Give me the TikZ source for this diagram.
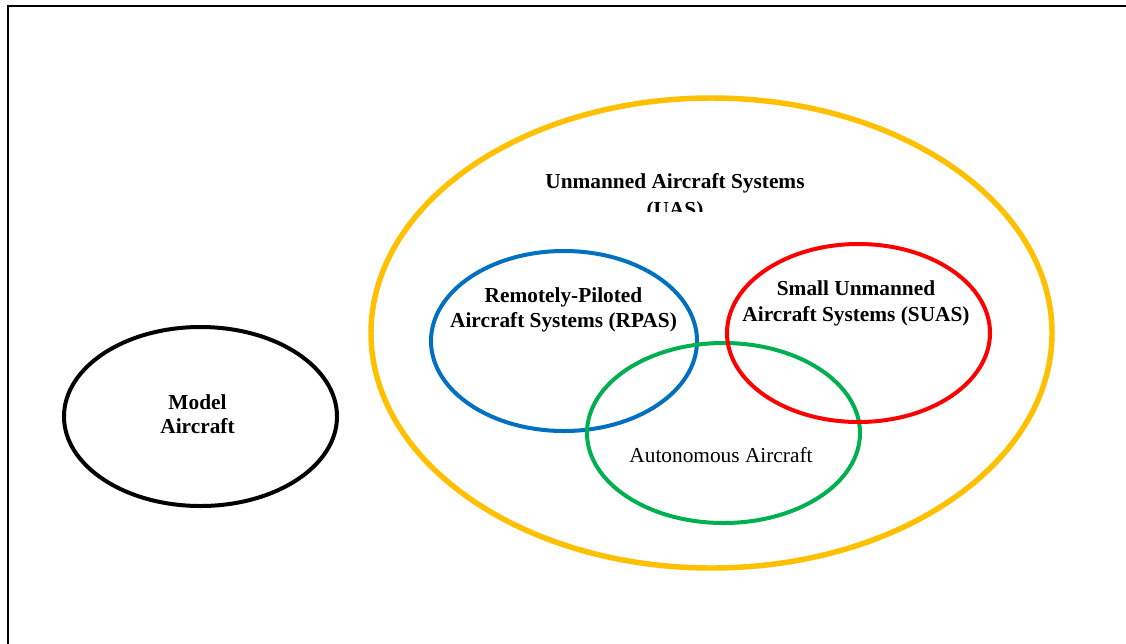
\documentclass[tikz,border=0pt]{standalone}
\usepackage{fontspec}
\setmainfont{Liberation Serif}
\usetikzlibrary{shapes.geometric}
\definecolor{uasyellow}{HTML}{FFC000}
\definecolor{rpasblue}{HTML}{0070C0}
\definecolor{suasred}{HTML}{FF0000}
\definecolor{autogreen}{HTML}{00B050}
\tikzset{
  setoval/.style={ellipse, draw, inner sep=0pt, outer sep=0pt, line width=3pt},
  lbl/.style={anchor=base, inner sep=0pt, font=\fontsize{16}{19}\selectfont\bfseries},
  lblreg/.style={anchor=base, inner sep=0pt, font=\fontsize{16}{19}\selectfont},
  framebox/.style={line width=1.5pt, draw=black}
}
\begin{document}
\begin{tikzpicture}[x=0.75pt,y=-0.75pt]
\useasboundingbox (0,0) rectangle (1126,643);
\clip (0,0) rectangle (1126,643);
\fill[white] (0,0) rectangle (1126,643);
% frame (extends past right and bottom edges)
\coordinate (fbl) at (7.7,700);
\coordinate (ftl) at (7.7,6);
\coordinate (ftr) at (1200,6);
\draw[framebox] (fbl) -- (ftl) -- (ftr);
% ellipses
\node[setoval, draw=uasyellow, line width=4.1pt, minimum width=510.75pt, minimum height=352.5pt] (uas) at (711.5,333) {};
\node[setoval, draw=black, minimum width=204.75pt, minimum height=134.25pt] (model) at (200.5,416.5) {};
\node[setoval, draw=rpasblue, minimum width=199.5pt, minimum height=135pt] (rpas) at (564,341) {};
\node[setoval, draw=autogreen, minimum width=204.75pt, minimum height=135pt] (auto) at (723.5,433) {};
\node[setoval, draw=suasred, minimum width=197.25pt, minimum height=133.5pt] (suas) at (858.5,333) {};
% labels
\node[lbl] (uas1) at (675,188) {Unmanned Aircraft Systems};
\begin{scope}
\clip (500,195) rectangle (850,211.5);
\node[lbl] (uas2) at (675,216) {(UAS)};
\end{scope}
\node[lbl] (rpas1) at (563.5,302) {Remotely-Piloted};
\node[lbl] (rpas2) at (563.5,327) {Aircraft Systems (RPAS)};
\node[lbl] (suas1) at (856,295) {Small Unmanned};
\node[lbl] (suas2) at (856,321) {Aircraft Systems (SUAS)};
\node[lbl] (model1) at (197.5,409) {Model};
\node[lbl] (model2) at (197.5,433) {Aircraft};
\node[lblreg] (auto1) at (721,462) {Autonomous Aircraft};
\end{tikzpicture}
\end{document}
